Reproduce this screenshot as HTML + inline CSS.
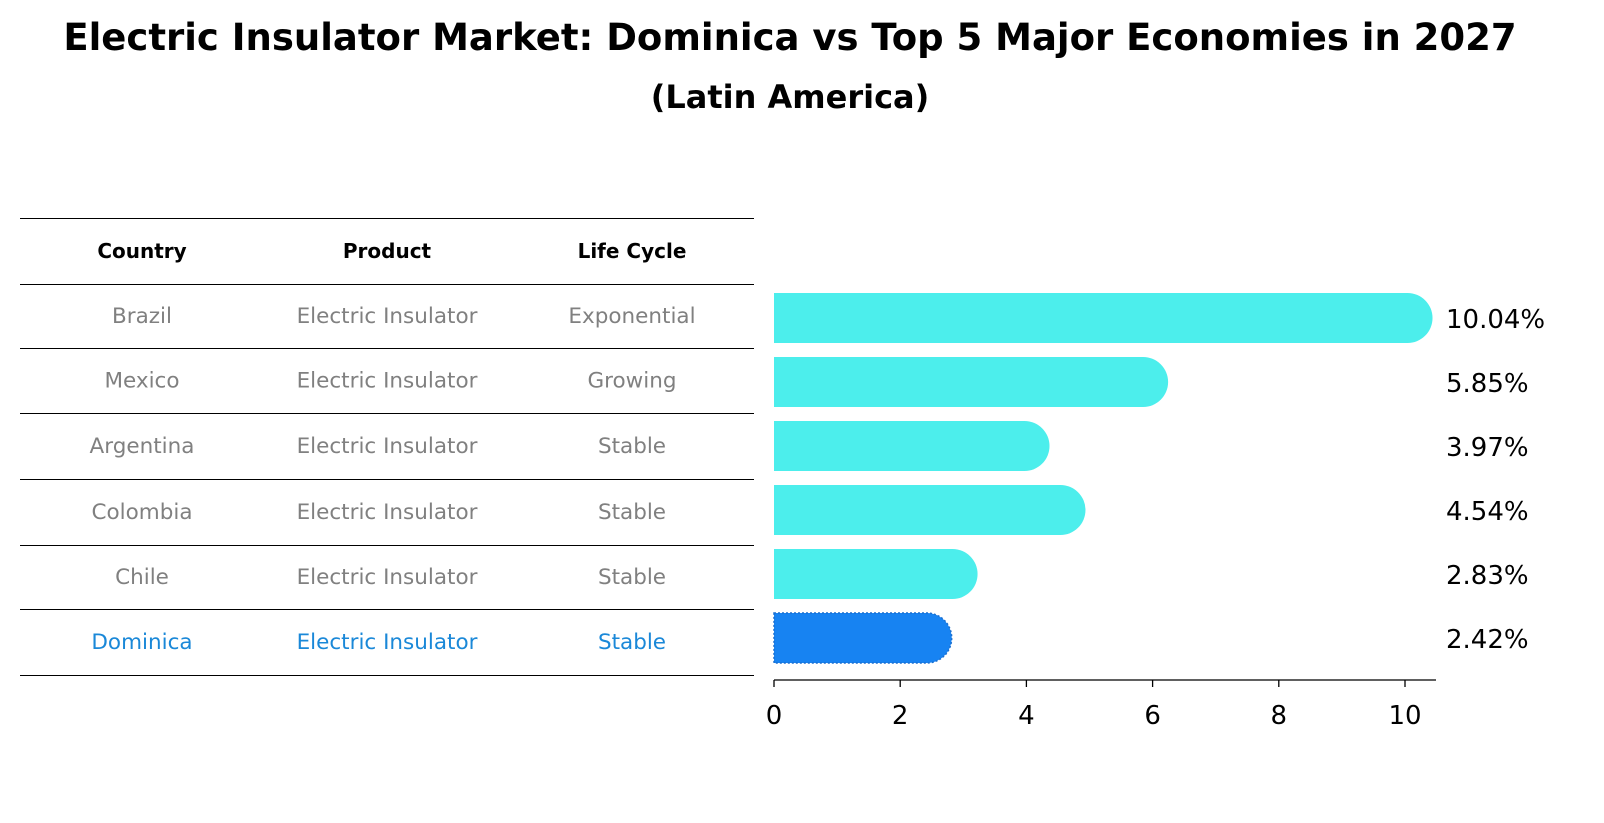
<!DOCTYPE html>
<html><head><meta charset="utf-8"><style>
body{margin:0;background:#fff;}
svg{display:block;font-family:"DejaVu Sans","Liberation Sans",sans-serif;}
</style></head><body>
<svg id="c" width="1604" height="823" viewBox="0 0 1604 823">
<text x="790" y="50" text-anchor="middle" font-size="37" font-weight="bold">Electric Insulator Market: Dominica vs Top 5 Major Economies in 2027</text>
<text x="790" y="108" text-anchor="middle" font-size="32" font-weight="bold">(Latin America)</text>
<g id="tbl"></g>
<g id="bars"></g>
</svg>
<script>
const countries=["Brazil","Mexico","Argentina","Colombia","Chile","Dominica"];
const products=["Electric Insulator","Electric Insulator","Electric Insulator","Electric Insulator","Electric Insulator","Electric Insulator"];
const lifeCycles=["Exponential","Growing","Stable","Stable","Stable","Stable"];
const values=[10.04,5.85,3.97,4.54,2.83,2.42];
const valueLabels=["10.04%","5.85%","3.97%","4.54%","2.83%","2.42%"];
const ticks=[0,2,4,6,8,10];

const NS="http://www.w3.org/2000/svg";
function mk(tag,attrs,parent,txt){const e=document.createElementNS(NS,tag);for(const k in attrs)e.setAttribute(k,attrs[k]);if(txt!==undefined)e.textContent=txt;parent.appendChild(e);return e;}
const tbl=document.getElementById('tbl'),bars=document.getElementById('bars');
const x=v=>774+v*63.1;
const rowY=i=>318+i*64;
const lines=[218,284,348,413,479,545,609,675];
lines.forEach((ly,i)=>{const l=mk('line',{x1:20,x2:754,y1:ly+0.5,y2:ly+0.5,stroke:'#000','stroke-width':1,'shape-rendering':'crispEdges'},tbl);

});
const cols=[142,387,632];
["Country","Product","Life Cycle"].forEach((h,j)=>{const t=mk('text',{x:cols[j],y:258,'text-anchor':'middle','font-size':20,'font-weight':'bold'},tbl,h);

});
countries.forEach((c,i)=>{const cy=(lines[i+1]+lines[i+2])/2+7;const col=c==="Dominica"?"#1a88d8":"#808080";
[c,products[i],lifeCycles[i]].forEach((s,j)=>{const t=mk('text',{x:cols[j],y:cy,'text-anchor':'middle','font-size':21.5,fill:col},tbl,s);

});});
values.forEach((v,i)=>{const cy=rowY(i);const dom=countries[i]==="Dominica";const fill=dom?"#1783f2":"#4ceeec";
const p=mk('path',{d:`M${x(0)},${cy-25}H${x(v)}A25,25 0 0 1 ${x(v)},${cy+25}H${x(0)}Z`,fill:fill},bars);
if(dom){p.setAttribute('stroke','#1a6fd0');p.setAttribute('stroke-dasharray','2,2');p.setAttribute('stroke-width','1.5');}


const t=mk('text',{x:1446,y:cy+10,'font-size':26},bars,valueLabels[i]);

});
const ax=mk('line',{x1:774,x2:1436,y1:680,y2:680,stroke:'#000','stroke-width':1.3},bars);


ticks.forEach(tv=>{const tl=mk('line',{x1:x(tv),x2:x(tv),y1:680,y2:687,stroke:'#000','stroke-width':1.3},bars);


const t=mk('text',{x:x(tv),y:724,'text-anchor':'middle','font-size':26},bars,String(tv));

});
</script>
</body></html>
